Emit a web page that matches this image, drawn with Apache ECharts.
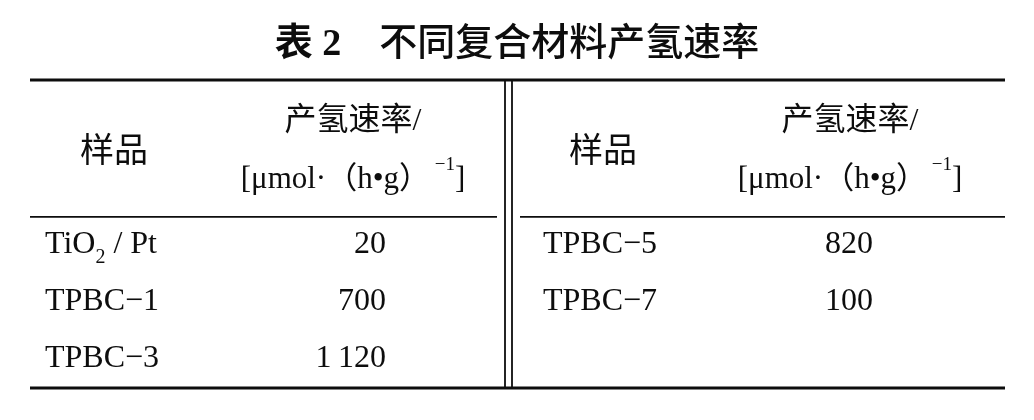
<!DOCTYPE html>
<html>
<head>
<meta charset="utf-8">
<script src="https://cdn.jsdelivr.net/npm/echarts@6/dist/echarts.min.js"></script>
<style>
  html, body { margin: 0; padding: 0; background: #fff; }
  #main { width: 1034px; height: 420px; }
</style>
</head>
<body>
<div id="main"></div>
<script>
// table data
var title = '表 2';
var subTitle = '不同复合材料产氢速率';
var headSample = '样品';
var headRate = '产氢速率/';
var headUnit = ['[μmol·（h•g）', ' −1', ']'];
var leftSamples = ['TiO2 / Pt', 'TPBC−1', 'TPBC−3'];
var leftRates = [20, 700, 1120];
var rightSamples = ['TPBC−5', 'TPBC−7'];
var rightRates = [820, 100];

var serif = "'Liberation Serif','Times New Roman','Noto Sans CJK SC',serif";
var ink = '#0d0d0d';

// layout (axis units: x = px from table left, y = rows below header rule)
var TOP = -2.4, BOTTOM = 3, WIDTH = 975;
var colName = [15, 513], colRate = [356, 843];
var headName = [84, 573], headRateX = [323, 820];

function fmtName(s) {
  // TiO2 -> subscript 2
  return s.replace(/O2/, '{n|O}{s|2}').replace(/^([^{]*)\{/, '{n|$1}{').replace(/\}([^{}]+)$/, '}{n|$1}');
}
function fmtRate(v) {
  return v >= 1000 ? String(v).slice(0, 1) + '\u2009' + String(v).slice(1) : String(v);
}

var rows = [];
leftSamples.forEach(function (s, i) { rows.push([0, i, s, leftRates[i]]); });
rightSamples.forEach(function (s, i) { rows.push([1, i, s, rightRates[i]]); });

function txt(x, y, text, align, size, rich) {
  return {
    type: 'text', x: x, y: y,
    style: {
      text: text, fill: ink, fontSize: size, fontFamily: serif,
      align: align, verticalAlign: 'middle', rich: rich
    }
  };
}

var subRich = {
  n: { fontSize: 32, fontFamily: serif, color: ink },
  s: { fontSize: 20, fontFamily: serif, color: ink, verticalAlign: 'bottom', lineHeight: 46 },
  u: { fontSize: 31, fontFamily: serif, color: ink },
  p: { fontSize: 19, fontFamily: serif, color: ink, verticalAlign: 'top', lineHeight: 48 }
};

var option = {
  backgroundColor: '#fff',
  animation: false,
  title: {
    text: '{b|' + title + '}{t|\u3000' + subTitle + '}',
    left: 'center',
    top: 21,
    textStyle: {
      rich: {
        b: { fontSize: 38, fontWeight: 'bold', fontFamily: serif, color: ink },
        t: { fontSize: 38, fontWeight: 500, fontFamily: serif, color: ink }
      }
    }
  },
  grid: { left: 30, right: 29, top: 80, bottom: 32 },
  xAxis: { type: 'value', min: 0, max: WIDTH, show: false },
  yAxis: { type: 'value', min: TOP, max: BOTTOM, inverse: true, show: false },
  series: [
    {
      name: 'rules',
      type: 'custom',
      silent: true,
      data: [[0, 0]],
      renderItem: function (params, api) {
        function line(x1, y1, x2, y2, w) {
          var a = api.coord([x1, y1]), b = api.coord([x2, y2]);
          return { type: 'line', shape: { x1: a[0], y1: a[1], x2: b[0], y2: b[1] }, style: { stroke: ink, lineWidth: w } };
        }
        var els = [
          line(0, TOP, WIDTH, TOP, 3),
          line(0, BOTTOM, WIDTH, BOTTOM, 3),
          line(0, 0, 467, 0, 1.8),
          line(490, 0, WIDTH, 0, 1.8),
          line(475, TOP, 475, BOTTOM, 1.8),
          line(482, TOP, 482, BOTTOM, 1.8)
        ];
        [0, 1].forEach(function (k) {
          var p = api.coord([headName[k], -1.12]);
          els.push(txt(p[0], p[1], headSample, 'center', 34));
          p = api.coord([headRateX[k], -1.67]);
          els.push(txt(p[0], p[1], headRate, 'center', 32));
          p = api.coord([headRateX[k], -0.65]);
          els.push(txt(p[0], p[1], '{u|' + headUnit[0] + '}{p|' + headUnit[1] + '}{u|' + headUnit[2] + '}', 'center', 31, subRich));
        });
        return { type: 'group', children: els };
      }
    },
    {
      name: 'rows',
      type: 'custom',
      silent: true,
      data: rows,
      renderItem: function (params, api) {
        var side = api.value(0), r = api.value(1);
        var d = rows[params.dataIndex];
        var pn = api.coord([colName[side], r + 0.48]);
        var pr = api.coord([colRate[side], r + 0.48]);
        var name = d[2];
        var nameEl = /O2/.test(name)
          ? txt(pn[0], pn[1], fmtName(name), 'left', 32, subRich)
          : txt(pn[0], pn[1], name, 'left', 32);
        return {
          type: 'group',
          children: [nameEl, txt(pr[0], pr[1], fmtRate(d[3]), 'right', 32)]
        };
      }
    }
  ]
};

var myChart = echarts.init(document.getElementById('main'));
myChart.setOption(option);
</script>
</body>
</html>
